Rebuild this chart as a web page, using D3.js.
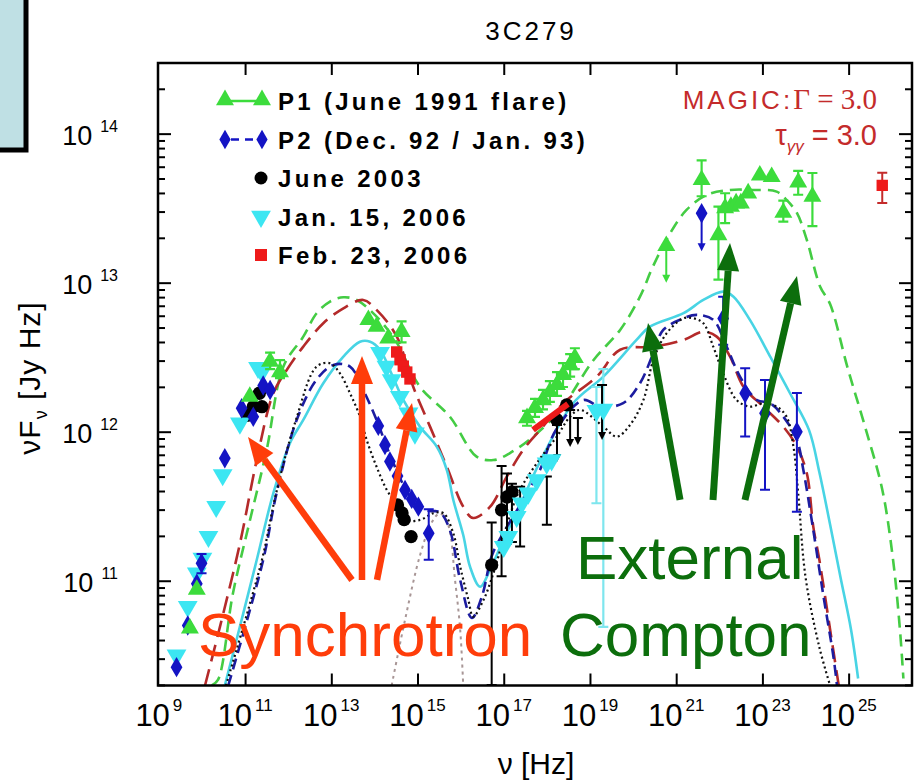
<!DOCTYPE html>
<html>
<head>
<meta charset="utf-8">
<script src="https://cdn.jsdelivr.net/npm/d3@7"></script>
<style>
  body { margin: 0; background: #fff; }
  svg { display: block; }
  text { font-family: "Liberation Sans", Arial, sans-serif; }
</style>
</head>
<body>
<svg id="chart" width="922" height="780"></svg>
<script>
// every value is log10(nu / Hz), log10(nuFnu / Jy Hz); optional [lo, hi] error bar
const p1Points = [
  [9.72, 10.68], [9.88, 10.94], [11.11, 12.235], [11.58, 12.47, 12.42, 12.53], [11.81, 12.40, 12.36, 12.48],
  [13.86, 12.75], [14.05, 12.705], [14.32, 12.627], [14.63, 12.671, 12.60, 12.74],
  [17.54, 12.092, 12.04, 12.14], [17.725, 12.16, 12.10, 12.22], [17.91, 12.213, 12.15, 12.28],
  [18.07, 12.267, 12.20, 12.34], [18.235, 12.314, 12.24, 12.40], [18.375, 12.381, 12.30, 12.46],
  [18.54, 12.448, 12.37, 12.52], [18.65, 12.495, 12.42, 12.56],
  [21.59, 13.69, 13.58, 13.82], [21.98, 13.32, 13.02, 13.51], [22.135, 13.50, 13.40, 13.60],
  [22.27, 13.51], [22.39, 13.533], [22.50, 13.533], [22.67, 13.60], [22.94, 13.72], [23.215, 13.71],
  [23.485, 13.47, 13.41, 13.55], [23.83, 13.673, 13.59, 13.75], [24.16, 13.577, 13.38, 13.736]
];
const p1Limits = [[20.77, 13.247, 13.0]];

const p2Points = [
  [9.41, 10.42], [9.67, 10.70], [9.88, 10.98], [9.99, 11.117, 11.05, 11.18], [10.53, 11.822],
  [10.92, 12.157], [11.19, 12.10], [11.42, 12.31], [11.58, 12.28],
  [14.09, 12.039], [14.245, 11.911], [14.36, 11.80], [14.536, 11.703], [14.71, 11.609],
  [14.865, 11.549], [15.02, 11.497], [15.26, 11.318, 11.14, 11.48],
  [22.09, 12.76, 12.583, 12.906], [22.60, 12.258, 11.967, 12.426],
  [23.06, 12.124, 11.61, 12.347], [23.80, 12.0, 11.463, 12.26]
];
const p2Limits = [[21.59, 13.466, 13.21]];

const june2003 = [
  [11.05, 12.11], [11.19, 12.168], [11.33, 12.258], [11.39, 12.168],
  [14.535, 11.508], [14.64, 11.455], [14.69, 11.41], [14.85, 11.296],
  [16.72, 11.106, 10.30, 11.39], [16.95, 11.475, 11.03, 11.77], [17.075, 11.562, 11.25, 11.72],
  [17.19, 11.596, 11.26, 11.65], [18.23, 12.08], [18.46, 12.18]
];
const june2003Bars = [[17.38, 11.55, 11.23, 11.63], [18.0, 11.55, 11.375, 11.70]];
const june2003Limits = [[18.235, 12.045, 11.797], [18.54, 12.146, 11.898], [18.72, 12.092, 11.91], [19.28, 12.314, 11.945]];

const jan2006 = [
  [9.41, 10.50], [9.67, 10.826], [9.88, 11.05], [10.01, 11.15], [10.15, 11.296], [10.33, 11.497],
  [10.48, 11.71], [10.88, 12.057], [11.3, 12.43], [11.39, 12.40],
  [14.13, 12.53], [14.28, 12.437], [14.40, 12.347], [14.59, 12.235], [14.79, 12.124], [14.94, 11.99],
  [17.0, 11.229], [17.106, 11.296], [17.30, 11.43], [17.417, 11.52], [17.57, 11.587],
  [17.765, 11.676], [17.996, 11.788], [18.11, 11.81],
  [19.15, 12.14, 11.52, 12.30], [19.31, 12.15, 10.69, 12.42]
];

const feb2006 = [[14.517, 12.535], [14.594, 12.483], [14.67, 12.44], [14.75, 12.40], [14.825, 12.354]];
const feb2006Xray = [[17.68, 12.012], [18.49, 12.186]];
const magicPoint = [[25.78, 13.653, 13.535, 13.737]];

// model curves
const modelP1 = [
  [10.226, 10.297], [10.37, 10.334], [10.72, 10.918], [11.114, 11.407], [11.50, 11.877], [11.887, 12.436],
  [12.35, 12.638], [12.66, 12.795], [12.97, 12.873], [13.28, 12.902], [13.59, 12.884], [14.01, 12.784],
  [14.48, 12.616], [15.055, 12.302], [15.75, 12.101], [16.37, 11.833], [16.76, 11.81], [17.145, 11.857],
  [17.68, 11.967], [18.31, 12.146], [19.08, 12.48], [19.70, 12.683], [20.16, 12.906], [20.46, 13.108],
  [20.86, 13.332], [21.24, 13.488], [21.71, 13.589], [22.25, 13.622], [22.78, 13.622], [23.33, 13.611],
  [23.56, 13.555], [23.80, 13.468], [24.03, 13.287], [24.34, 12.973], [24.57, 12.857], [24.97, 12.435],
  [25.38, 12.034], [25.78, 11.612], [26.03, 11.142], [26.19, 10.673], [26.27, 10.344]
];
const modelMagic = [
  [10.07, 10.297], [10.418, 10.692], [10.882, 11.251], [11.27, 11.81], [11.655, 12.258], [11.966, 12.414],
  [12.35, 12.571], [12.814, 12.728], [13.28, 12.828], [13.74, 12.884], [14.05, 12.817], [14.52, 12.638],
  [14.90, 12.302], [15.29, 12.034], [15.68, 11.765], [16.06, 11.497], [16.29, 11.421], [16.68, 11.495],
  [17.07, 11.698], [17.45, 11.878], [17.84, 12.011], [18.38, 12.191], [19.16, 12.37], [19.70, 12.55],
  [20.47, 12.57], [21.17, 12.616], [21.63, 12.671], [21.94, 12.638], [22.25, 12.504], [22.56, 12.302],
  [23.02, 12.168], [23.485, 12.034], [23.80, 11.90], [24.03, 11.721], [24.18, 11.363], [24.32, 11.142],
  [24.57, 10.673], [24.77, 10.297]
];
const modelJan2006 = [
  [10.53, 10.297], [10.88, 10.692], [11.27, 11.139], [11.655, 11.587], [12.04, 11.923], [12.35, 12.079],
  [12.814, 12.325], [13.28, 12.504], [13.665, 12.604], [13.90, 12.604], [14.13, 12.55], [14.41, 12.38],
  [14.67, 12.213], [15.055, 12.034], [15.445, 11.90], [15.68, 11.743], [15.83, 11.542], [16.06, 11.307],
  [16.22, 11.092], [16.45, 10.96], [16.68, 11.072], [16.99, 11.274], [17.38, 11.508], [17.84, 11.797],
  [18.61, 12.191], [19.31, 12.37], [20.08, 12.616], [20.39, 12.705], [21.17, 12.795], [21.63, 12.884],
  [22.09, 12.94], [22.33, 12.906], [22.71, 12.75], [23.18, 12.504], [23.64, 12.258], [24.08, 12.012],
  [24.32, 11.73], [24.57, 11.377], [24.81, 11.025], [25.055, 10.673], [25.22, 10.344]
];
const modelP2 = [
  [10.61, 10.297], [11.42, 11.139], [11.73, 11.587], [12.197, 12.079], [12.66, 12.35], [13.05, 12.448],
  [13.434, 12.437], [13.74, 12.28], [14.05, 12.079], [14.36, 11.844], [14.71, 11.622], [15.01, 11.488],
  [15.29, 11.468], [15.52, 11.46], [15.75, 11.34], [15.99, 11.005], [16.26, 10.75], [16.49, 10.891],
  [16.73, 11.173], [17.03, 11.34], [17.38, 11.508], [17.84, 11.743], [18.21, 12.011], [18.85, 12.213],
  [19.23, 12.168], [19.77, 12.191], [20.16, 12.325], [20.47, 12.527], [20.70, 12.683], [21.17, 12.761],
  [21.48, 12.784], [21.86, 12.75], [22.17, 12.571], [22.48, 12.37], [22.87, 12.213], [23.18, 12.191],
  [23.485, 12.101], [23.80, 11.945], [23.95, 11.743], [24.16, 11.377], [24.41, 10.908], [24.65, 10.485],
  [24.73, 10.297]
];
const modelJune2003 = [
  [10.555, 10.297], [11.39, 11.139], [11.72, 11.587], [12.18, 12.079], [12.66, 12.437], [12.97, 12.459],
  [13.20, 12.392], [13.434, 12.258], [13.665, 12.101], [13.82, 11.945], [14.05, 11.765], [14.285, 11.61],
  [14.44, 11.542], [14.75, 11.408], [15.06, 11.408], [15.37, 11.453], [15.60, 11.453], [15.83, 11.318],
  [15.99, 11.094], [16.18, 10.871], [16.29, 10.759], [16.53, 10.871], [16.76, 11.05], [17.30, 11.564],
  [17.765, 11.788], [18.23, 11.967], [18.54, 12.101], [18.77, 12.146], [19.31, 12.034], [19.62, 11.967],
  [19.93, 12.045], [20.24, 12.213], [20.47, 12.481], [20.78, 12.661], [21.17, 12.761], [21.40, 12.761],
  [21.63, 12.728], [21.86, 12.571], [22.09, 12.392], [22.40, 12.213], [22.71, 12.168], [23.02, 12.191],
  [23.33, 12.168], [23.56, 12.101], [23.72, 11.90], [23.83, 11.587], [24.0, 11.025], [24.32, 10.555],
  [24.57, 10.297]
];
const modelDisk = [
  [14.40, 10.297], [14.71, 10.737], [15.06, 11.173], [15.335, 11.394], [15.52, 11.453], [15.71, 11.374],
  [15.87, 11.005], [15.99, 10.67], [16.06, 10.297]
];

// annotation arrows, [from, to] in the same log units
const synchrotronArrows = [
  [[13.48, 11.005], [11.068, 11.965]],
  [[13.712, 11.005], [13.712, 12.508]],
  [[14.06, 11.005], [14.872, 12.193]]
];
const comptonArrows = [
  [[21.089, 11.542], [20.346, 12.73]],
  [[21.854, 11.542], [22.248, 13.267]],
  [[22.596, 11.542], [23.802, 13.045]]
];

const xTickExp = [9, 11, 13, 15, 17, 19, 21, 23, 25];
const yTickExp = [11, 12, 13, 14];

const legendItems = [
  { label: 'P1 (June 1991 flare)', kind: 'p1' },
  { label: 'P2 (Dec. 92 / Jan. 93)', kind: 'p2' },
  { label: 'June 2003', kind: 'june' },
  { label: 'Jan. 15, 2006', kind: 'jan' },
  { label: 'Feb. 23, 2006', kind: 'feb' }
];

// colours
const cP1 = '#3cdc3c', cP2 = '#1414c4', cCyan = '#3ce6f2', cRed = '#ee1a1a', cMagic = '#c42b2b';

const plot = { left: 158, right: 912, top: 63, bottom: 685.5 };
const svg = d3.select('#chart');

const x = d3.scaleLog().domain([10 ** 8.98, 10 ** 26.47]).range([plot.left, plot.right]);
const y = d3.scaleLog().domain([10 ** 10.297, 10 ** 14.474]).range([plot.bottom, plot.top]);
const px = v => x(10 ** v);
const py = v => y(10 ** v);

// top-left cut off box
svg.append('rect').attr('x', -10).attr('y', -10).attr('width', 36).attr('height', 160)
   .attr('fill', '#bfe0e4').attr('stroke', '#000').attr('stroke-width', 5);

svg.append('defs').append('clipPath').attr('id', 'plotclip')
   .append('rect').attr('x', plot.left).attr('y', plot.top)
   .attr('width', plot.right - plot.left).attr('height', plot.bottom - plot.top);

// ticks
const yMinor = [];
for (let e = 10; e <= 14; e++) {
  for (let m = 2; m <= 9; m++) {
    const v = m * 10 ** e;
    if (v > y.domain()[0] && v < y.domain()[1]) yMinor.push(v);
  }
}
const xMajor = xTickExp.filter(e => e > 9).map(e => 10 ** e);
const yMajor = yTickExp.map(e => 10 ** e);

function tickAxis(axis, tr) {
  const g = svg.append('g').attr('transform', tr).call(axis);
  g.select('.domain').remove();
  g.selectAll('line').attr('stroke', '#000').attr('stroke-width', 2);
  g.selectAll('text').remove();
}
tickAxis(d3.axisBottom(x).tickValues(xMajor).tickSize(-12).tickFormat(''), `translate(0,${plot.bottom})`);
tickAxis(d3.axisTop(x).tickValues(xMajor).tickSize(-12).tickFormat(''), `translate(0,${plot.top})`);
tickAxis(d3.axisLeft(y).tickValues(yMajor).tickSize(-13).tickFormat(''), `translate(${plot.left},0)`);
tickAxis(d3.axisLeft(y).tickValues(yMinor).tickSize(-7).tickFormat(''), `translate(${plot.left},0)`);
tickAxis(d3.axisRight(y).tickValues(yMajor).tickSize(-13).tickFormat(''), `translate(${plot.right},0)`);
tickAxis(d3.axisRight(y).tickValues(yMinor).tickSize(-7).tickFormat(''), `translate(${plot.right},0)`);

// tick labels with superscript exponents
xTickExp.forEach(e => {
  const t = svg.append('text').attr('x', px(e)).attr('y', 726).attr('text-anchor', 'middle')
     .attr('font-size', 31).attr('fill', '#000').text('10');
  t.append('tspan').attr('dy', -15).attr('dx', 3).attr('font-size', 17).text(e);
});
yTickExp.forEach(e => {
  const t = svg.append('text').attr('x', 118).attr('y', py(e) + 11).attr('text-anchor', 'end')
     .attr('font-size', 27).attr('fill', '#000').text('10');
  t.append('tspan').attr('dy', -13).attr('dx', 8).attr('font-size', 16).text(e);
});

// title and axis titles
svg.append('text').attr('x', 531).attr('y', 40).attr('text-anchor', 'middle')
   .attr('font-size', 26).attr('letter-spacing', 3).text('3C279');
svg.append('text').attr('x', 536).attr('y', 774).attr('text-anchor', 'middle')
   .attr('font-size', 30).text('ν [Hz]');
const yt = svg.append('text').attr('transform', 'translate(40,378) rotate(-90)')
   .attr('text-anchor', 'middle').attr('font-size', 30).attr('letter-spacing', 1).text('νF');
yt.append('tspan').attr('dy', 7).attr('font-size', 18).text('ν');
yt.append('tspan').attr('dy', -7).attr('font-size', 30).text(' [Jy Hz]');

// model curves
const layer = svg.append('g').attr('clip-path', 'url(#plotclip)');
const line = d3.line().x(d => px(d[0])).y(d => py(d[1])).curve(d3.curveCatmullRom.alpha(0.5));
const curves = [
  { data: modelDisk, color: '#a89696', width: 2, dash: '3,4' },
  { data: modelP1, color: '#44cc44', width: 2.6, dash: '12,7' },
  { data: modelMagic, color: '#b42a2a', width: 2.6, dash: '17,8' },
  { data: modelJan2006, color: '#48d4e4', width: 2.6, dash: null },
  { data: modelP2, color: '#1c1ca0', width: 2.6, dash: '11,6' },
  { data: modelJune2003, color: '#111', width: 2.2, dash: '2,3' }
];
curves.forEach(c => {
  layer.append('path').attr('d', line(c.data)).attr('fill', 'none')
       .attr('stroke', c.color).attr('stroke-width', c.width)
       .attr('stroke-dasharray', c.dash);
});

// data markers
function errorBars(data, color, width) {
  const bars = data.filter(d => d.length > 2);
  layer.selectAll(null).data(bars).enter().append('path')
       .attr('d', d => {
         const cx = px(d[0]), lo = py(d[2]), hi = py(d[3]);
         return `M${cx - 5},${hi}H${cx + 5}M${cx},${hi}V${lo}M${cx - 5},${lo}H${cx + 5}`;
       })
       .attr('fill', 'none').attr('stroke', color).attr('stroke-width', width || 2);
}
function upperLimits(data, color) {
  layer.selectAll(null).data(data).enter().append('path')
       .attr('d', d => {
         const cx = px(d[0]), top = py(d[1]), bot = py(d[2]);
         return `M${cx - 5},${top}H${cx + 5}M${cx},${top}V${bot - 6}`;
       })
       .attr('fill', 'none').attr('stroke', color).attr('stroke-width', 2);
  layer.selectAll(null).data(data).enter().append('path')
       .attr('d', d => {
         const cx = px(d[0]), bot = py(d[2]);
         return `M${cx - 4},${bot - 8}L${cx + 4},${bot - 8}L${cx},${bot}Z`;
       })
       .attr('fill', color);
}
function symbols(data, type, size, color, rotate) {
  layer.selectAll(null).data(data).enter().append('path')
       .attr('d', d3.symbol().type(type).size(size))
       .attr('transform', d => `translate(${px(d[0])},${py(d[1])})` + (rotate ? ` rotate(${rotate})` : ''))
       .attr('fill', color);
}

errorBars(jan2006, '#7ee6ee', 2.2);
errorBars(june2003Bars, '#000');
errorBars(june2003, '#000');
upperLimits(june2003Limits, '#000');
symbols(june2003, d3.symbolCircle, 140, '#000');

layer.append('path').attr('d', d3.line().x(d => px(d[0])).y(d => py(d[1]))(feb2006Xray))
     .attr('stroke', cRed).attr('stroke-width', 6).attr('fill', 'none');

symbols(jan2006, d3.symbolTriangle, 170, cCyan, 180);

errorBars(p2Points, cP2);
upperLimits(p2Limits, cP2);
symbols(p2Points, d3.symbolDiamond, 120, cP2);
symbols(p2Limits, d3.symbolDiamond, 120, cP2);

errorBars(p1Points, cP1, 2.2);
upperLimits(p1Limits, cP1);
symbols(p1Points, d3.symbolTriangle, 140, cP1);
symbols(p1Limits, d3.symbolTriangle, 140, cP1);

symbols(feb2006, d3.symbolSquare, 130, cRed);
errorBars(magicPoint, cMagic);
symbols(magicPoint, d3.symbolSquare, 130, cRed);

// frame
svg.append('rect').attr('x', plot.left).attr('y', plot.top)
   .attr('width', plot.right - plot.left).attr('height', plot.bottom - plot.top)
   .attr('fill', 'none').attr('stroke', '#000').attr('stroke-width', 2.5);

// legend
const legend = svg.append('g');
legendItems.forEach((item, i) => {
  const ly = 101 + i * 38.5;
  const g = legend.append('g').attr('transform', `translate(0,${ly})`);
  if (item.kind === 'p1') {
    g.append('line').attr('x1', 225).attr('x2', 262).attr('stroke', cP1).attr('stroke-width', 2.5);
    [225, 262].forEach(cx => g.append('path').attr('d', d3.symbol().type(d3.symbolTriangle).size(140))
      .attr('transform', `translate(${cx},-1)`).attr('fill', cP1));
  } else if (item.kind === 'p2') {
    g.append('line').attr('x1', 225).attr('x2', 262).attr('stroke', cP2).attr('stroke-width', 2.5)
     .attr('stroke-dasharray', '8,6').attr('stroke-dashoffset', -6);
    [225, 262].forEach(cx => g.append('path').attr('d', d3.symbol().type(d3.symbolDiamond).size(110))
      .attr('transform', `translate(${cx},0)`).attr('fill', cP2));
  } else if (item.kind === 'june') {
    g.append('circle').attr('cx', 261).attr('cy', 0).attr('r', 6.5).attr('fill', '#000');
  } else if (item.kind === 'jan') {
    g.append('path').attr('d', d3.symbol().type(d3.symbolTriangle).size(170))
     .attr('transform', 'translate(261,0) rotate(180)').attr('fill', cCyan);
  } else {
    g.append('rect').attr('x', 255).attr('y', -6).attr('width', 12).attr('height', 12).attr('fill', cRed);
  }
  g.append('text').attr('x', 278).attr('y', 9).attr('font-size', 24).attr('font-weight', 'bold')
   .attr('letter-spacing', 3.3).text(item.label);
});

// MAGIC annotation
const m1 = svg.append('text').attr('x', 877).attr('y', 109).attr('text-anchor', 'end')
   .attr('fill', cMagic).attr('font-size', 26).attr('letter-spacing', 3).text('MAGIC:');
m1.append('tspan').attr('font-family', '"Liberation Serif", "Times New Roman", serif')
  .attr('font-size', 29).attr('letter-spacing', 0).text('Γ = 3.0');
const m2 = svg.append('text').attr('x', 877).attr('y', 145).attr('text-anchor', 'end')
   .attr('fill', cMagic).attr('font-family', '"Liberation Serif", "Times New Roman", serif')
   .attr('font-size', 29).text('τ');
m2.append('tspan').attr('dy', 7).attr('font-size', 17).attr('font-style', 'italic').text('γγ');
m2.append('tspan').attr('dy', -7).text(' = 3.0');

// annotation arrows
function arrows(list, color, w) {
  list.forEach(([a, b]) => {
    const x1 = px(a[0]), y1 = py(a[1]), x2 = px(b[0]), y2 = py(b[1]);
    const ang = Math.atan2(y2 - y1, x2 - x1);
    const len = 28, hw = 11;
    const bx = x2 - len * Math.cos(ang), by = y2 - len * Math.sin(ang);
    svg.append('line').attr('x1', x1).attr('y1', y1).attr('x2', bx).attr('y2', by)
       .attr('stroke', color).attr('stroke-width', w);
    const nx = -Math.sin(ang), ny = Math.cos(ang);
    svg.append('path').attr('d', `M${x2},${y2}L${bx + nx * hw},${by + ny * hw}L${bx - nx * hw},${by - ny * hw}Z`)
       .attr('fill', color);
  });
}
const cSync = '#ff3d0a', cComp = '#0c6e0c';
arrows(synchrotronArrows, cSync, 6.5);
arrows(comptonArrows, cComp, 7);

svg.append('text').attr('x', 198).attr('y', 656).attr('font-size', 62).attr('fill', cSync).text('Synchrotron');
svg.append('text').attr('x', 576).attr('y', 579).attr('font-size', 62).attr('fill', cComp).text('External');
svg.append('text').attr('x', 560).attr('y', 656).attr('font-size', 62).attr('fill', cComp).text('Compton');
</script>
</body>
</html>
